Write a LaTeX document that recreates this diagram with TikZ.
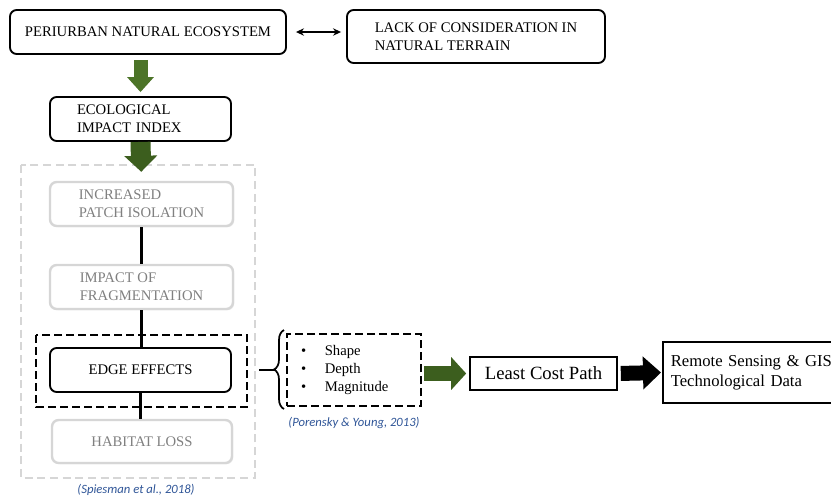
\documentclass[tikz,border=0pt]{standalone}
\usepackage{fontspec}
\setmainfont{Liberation Serif}
\newfontfamily\citefont{Carlito}
\usetikzlibrary{arrows.meta,decorations.pathreplacing,shadows}
\definecolor{leafgreen}{RGB}{76,116,40}
\definecolor{darkleaf}{RGB}{60,94,30}
\definecolor{citeblue}{RGB}{47,85,151}
\begin{document}
\begin{tikzpicture}
  [x=0.75pt,y=-0.75pt,
   Box/.style={draw=black,line width=1.4pt,rounded corners=5pt,fill=white,inner sep=0pt,
     font=\fontsize{11}{13.5}\selectfont},
   Faded/.style={Box,draw=black!16,line width=1.8pt,text=black!50,
     drop shadow={shadow xshift=1pt,shadow yshift=-1pt,opacity=0.12}},
   Plain/.style={draw=black,line width=1.2pt,fill=white,inner sep=0pt,font=\fontsize{14}{16}\selectfont},
   Block/.style={leafgreen,line width=11.25pt,-{Triangle[length=11.25pt,width=24pt]}},
   Cite/.style={font=\citefont\itshape\fontsize{9.5}{11}\selectfont,text=citeblue}]
  \clip (0,0) rectangle (831,497);
  % frame around the fragmentation chain
  \draw[black!16,line width=1.2pt,dash pattern=on 6pt off 3.5pt] (21,165) rectangle (255,478);
  \node[Cite] (spies) at (136,490) {(Spiesman et al., 2018)};
  % top row
  \node[Box,minimum width=207pt,minimum height=33pt] (peri) at (148,32) {PERIURBAN NATURAL ECOSYSTEM};
  \node[Box,minimum width=193.5pt,minimum height=39.75pt,align=left] (lack) at (476,36.5)
    {LACK OF CONSIDERATION IN\\NATURAL TERRAIN};
  \draw[line width=1.3pt,{Stealth[length=6pt,width=5.5pt]}-{Stealth[length=6pt,width=5.5pt]},
    shorten <=6.75pt,shorten >=3.75pt] (peri.east) -- (lack.west |- peri.east);
  \node[Box,minimum height=33pt,text width=95.25pt,inner xsep=20.25pt,align=left] (eco) at (140.5,119)
    {ECOLOGICAL\\IMPACT INDEX};
  % chain
  \node[Faded,minimum width=137.25pt,minimum height=33pt,align=left] (inc) at (141.5,204)
    {INCREASED\\PATCH ISOLATION};
  \node[Faded,minimum width=137.25pt,minimum height=33pt,align=left] (imp) at (141.5,287)
    {IMPACT OF\\FRAGMENTATION};
  \node[Box,minimum width=135.75pt,minimum height=33pt] (edge) at (140.5,370) {EDGE EFFECTS};
  \node[Faded,minimum width=135pt,minimum height=32.25pt] (hab) at (142,441.5) {HABITAT LOSS};
  \draw[line width=1.7pt] (inc.south) -- (inc.south |- imp.north);
  \draw[line width=1.7pt] (imp.south) -- (imp.south |- edge.north);
  \draw[line width=1.7pt] (edge.south) -- (edge.south |- hab.north);
  \draw[line width=1.8pt,dash pattern=on 6pt off 3pt] (36,335) rectangle (247,407);
  % green block arrows
  \draw[Block,line width=10.5pt,-{Triangle[length=11.25pt,width=19.5pt]},
    shorten <=3.75pt,shorten >=3pt] (eco.north |- peri.south) -- (eco.north);
  \draw[Block,darkleaf,line width=15pt,-{Triangle[length=12pt,width=24pt]},
    shorten >=6.75pt] (eco.south) -- (inc.north);
  % edge effect attributes
  \draw[line width=1.3pt,decorate,decoration={brace,amplitude=7.5pt}] (284,409) -- (284,330);
  \coordinate (braceTip) at (274,370);
  \coordinate (tickEnd) at (259,370);
  \draw[line width=1.3pt] (tickEnd) -- (braceTip);
  \node[draw=black,line width=1.8pt,dash pattern=on 6pt off 3pt,minimum width=100.5pt,minimum height=54pt,
    inner xsep=10.5pt,text width=79.5pt,align=left,font=\fontsize{11}{13.5}\selectfont] (feat) at (354,370)
    {\textbullet\hspace{14pt}Shape\\\textbullet\hspace{14pt}Depth\\\textbullet\hspace{14pt}Magnitude};
  \node[Cite] (poren) at (354,423) {(Porensky \& Young, 2013)};
  % towards the data
  \node[Plain,minimum width=110.25pt,minimum height=24.75pt] (least) at (543.5,373.5) {Least Cost Path};
  \node[Plain,minimum height=45.75pt,inner xsep=6pt,text width=140pt,align=left,anchor=west,
    font=\fontsize{12.5}{15}\selectfont] (remote) at (662,372.5) {Remote Sensing \& GIS\\Technological Data};
  \draw[Block,darkleaf,shorten <=1.5pt,shorten >=2.25pt] (feat.east |- least.west) -- (least.west);
  \draw[Block,black,-{Triangle[length=13.5pt,width=24pt]},shorten <=2.25pt,shorten >=0.75pt]
    (least.east) -- (remote.west);
\end{tikzpicture}
\end{document}
